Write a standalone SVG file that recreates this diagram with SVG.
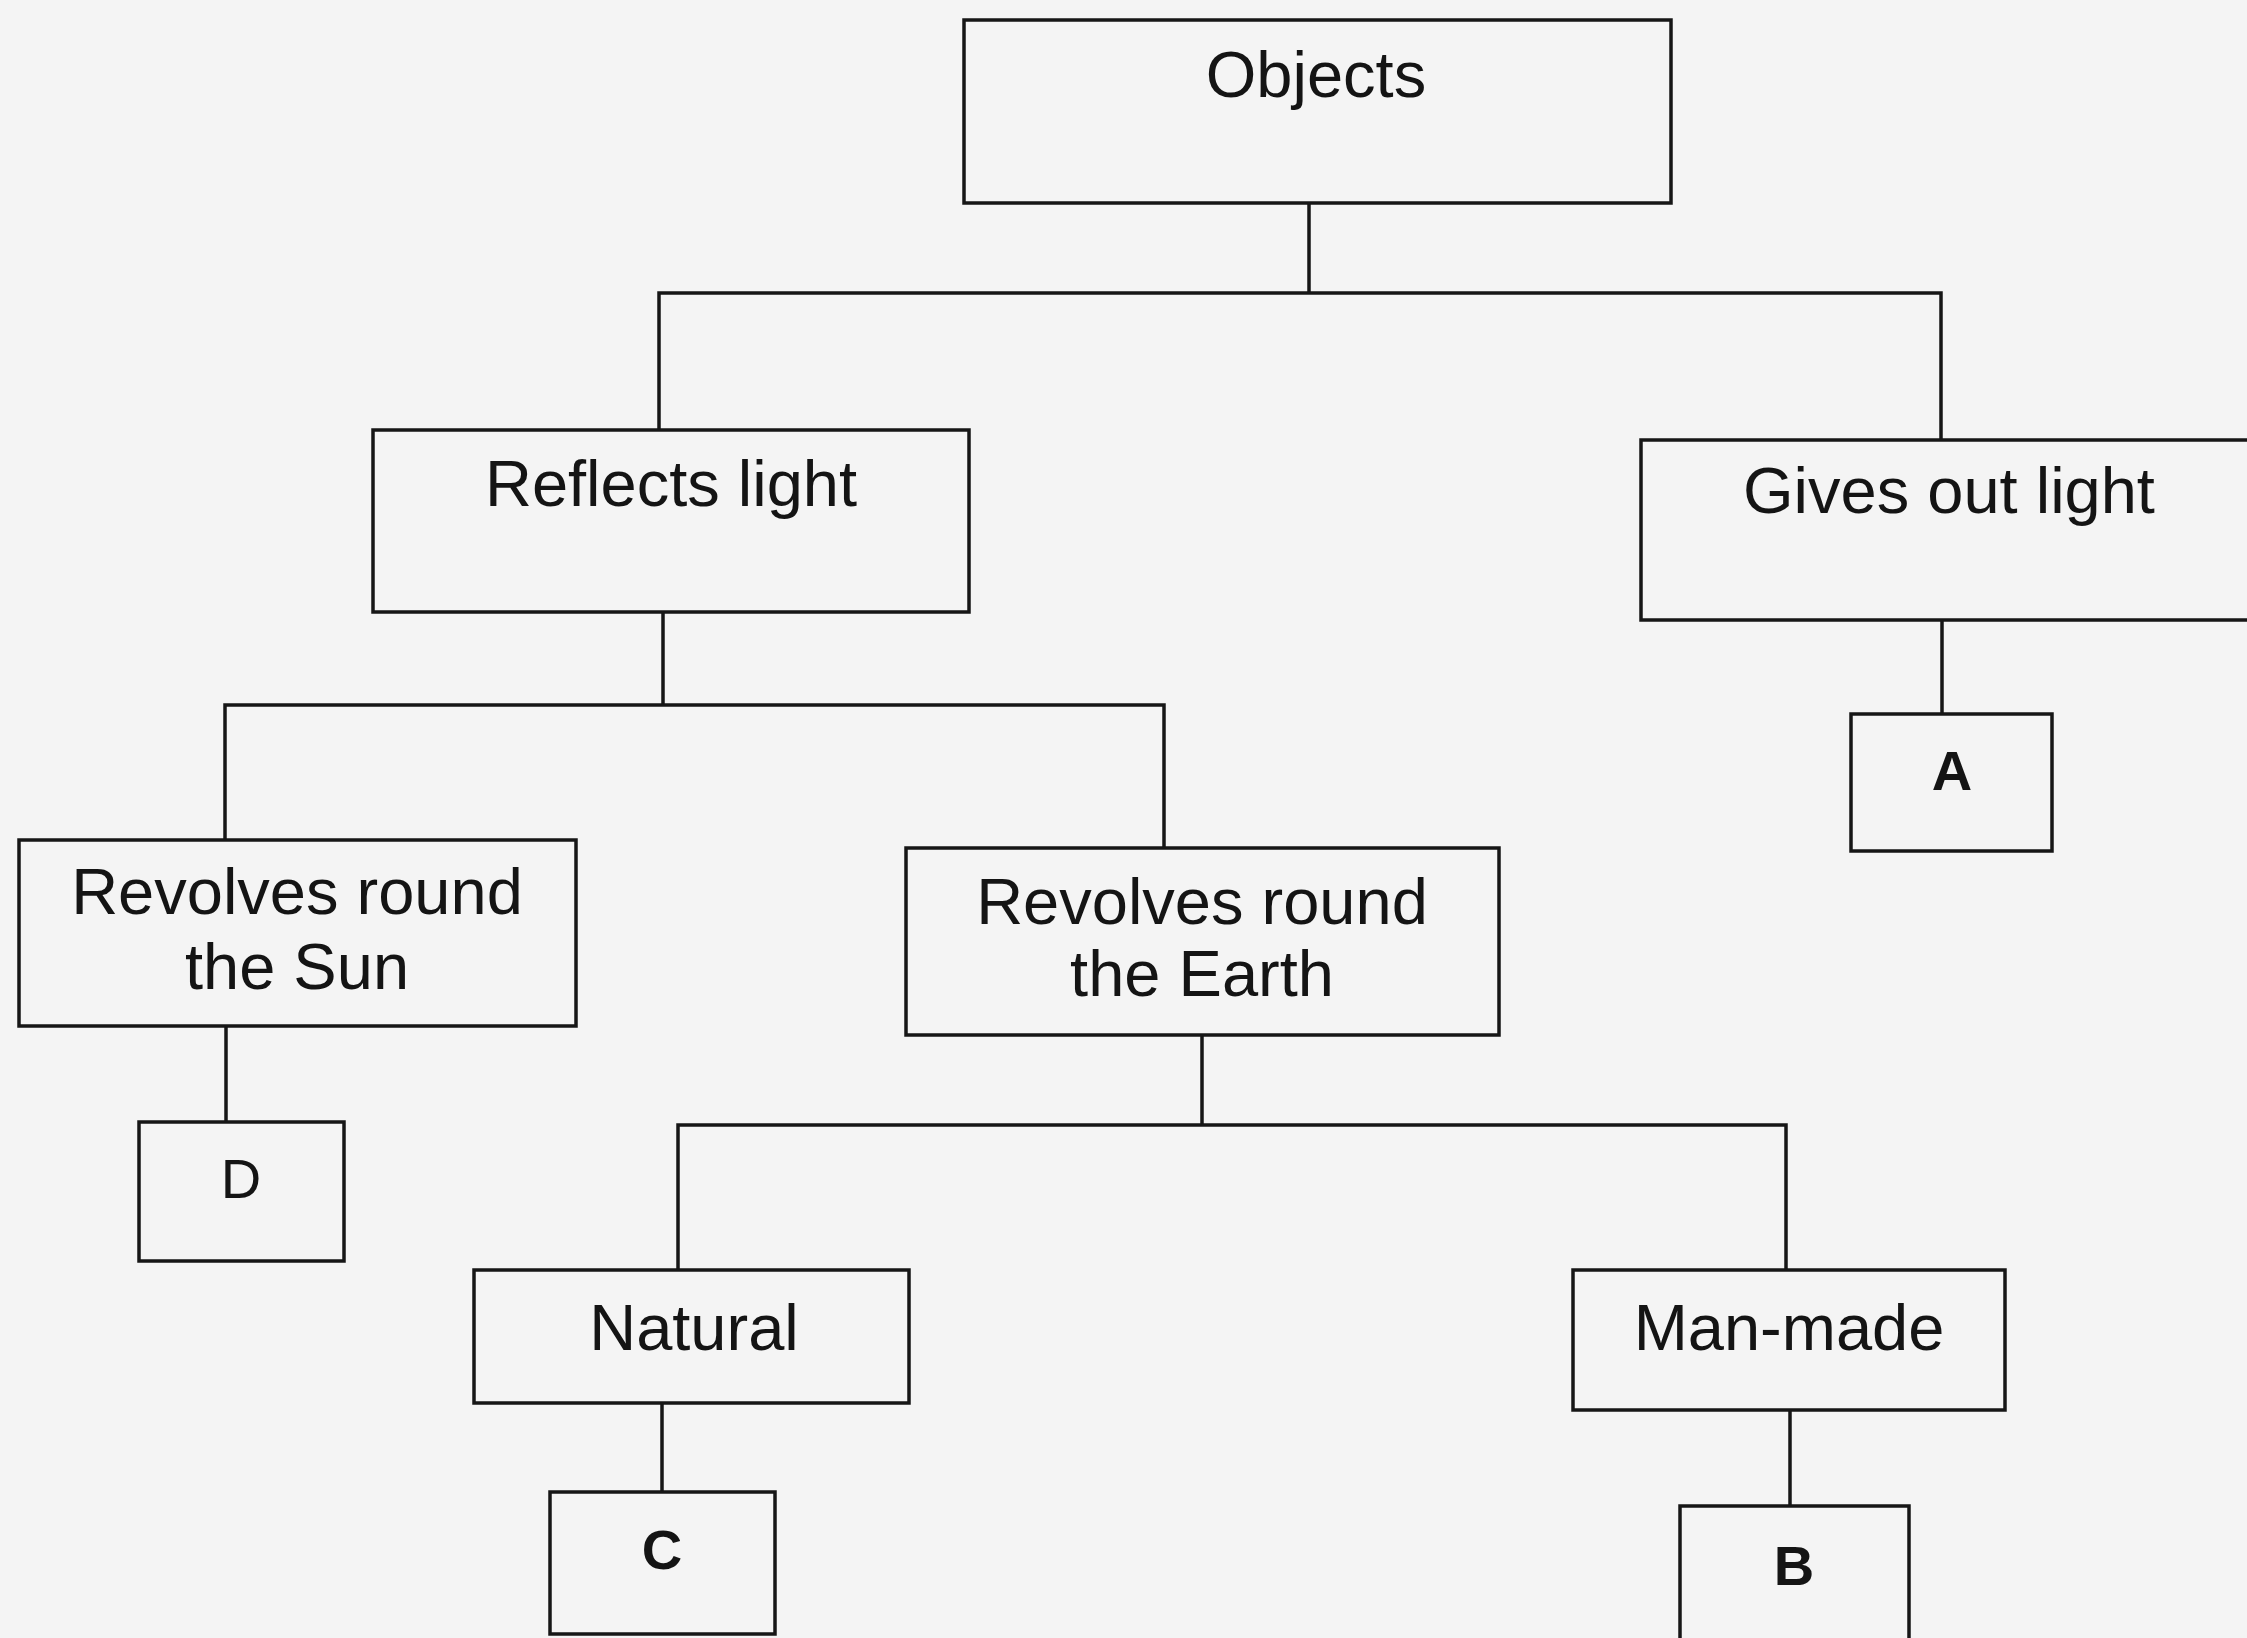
<svg xmlns="http://www.w3.org/2000/svg" width="2247" height="1638" viewBox="0 0 2247 1638">
<style>
.box{fill:none;stroke:#161616;stroke-width:3.5}
.ln{fill:none;stroke:#161616;stroke-width:3.5}
.t{font-family:"Liberation Sans",Arial,sans-serif;font-size:65px;fill:#141414;text-anchor:middle}
.l{font-family:"Liberation Sans",Arial,sans-serif;font-size:56px;font-weight:bold;fill:#141414;text-anchor:middle}
.n{font-weight:normal}
</style>
<rect width="2247" height="1638" fill="#f4f4f4"/>
<g id="connectors">
<polyline class="ln" points="1309,203 1309,293"/>
<polyline class="ln" points="659,430 659,293 1941,293 1941,440"/>
<polyline class="ln" points="1942,620 1942,714"/>
<polyline class="ln" points="663,612 663,705"/>
<polyline class="ln" points="225,840 225,705 1164,705 1164,848"/>
<polyline class="ln" points="226,1026 226,1122"/>
<polyline class="ln" points="1202,1035 1202,1125"/>
<polyline class="ln" points="678,1270 678,1125 1786,1125 1786,1270"/>
<polyline class="ln" points="662,1403 662,1492"/>
<polyline class="ln" points="1790,1410 1790,1506"/>
</g>
<g id="objects">
<rect class="box" x="964" y="20" width="707" height="183"/>
<text class="t" x="1316" y="97">Objects</text>
</g>
<g id="reflects">
<rect class="box" x="373" y="430" width="596" height="182"/>
<text class="t" x="671" y="506">Reflects light</text>
</g>
<g id="gives">
<rect class="box" x="1641" y="440" width="620" height="180"/>
<text class="t" x="1949" y="513">Gives out light</text>
</g>
<g id="nodeA">
<rect class="box" x="1851" y="714" width="201" height="137"/>
<text class="l" x="1952" y="790">A</text>
</g>
<g id="sun">
<rect class="box" x="19" y="840" width="557" height="186"/>
<text class="t" x="297" y="914">Revolves round</text>
<text class="t" x="297" y="989">the Sun</text>
</g>
<g id="nodeD">
<rect class="box" x="139" y="1122" width="205" height="139"/>
<text class="l n" x="241" y="1198">D</text>
</g>
<g id="earth">
<rect class="box" x="906" y="848" width="593" height="187"/>
<text class="t" x="1202" y="924">Revolves round</text>
<text class="t" x="1202" y="996">the Earth</text>
</g>
<g id="natural">
<rect class="box" x="474" y="1270" width="435" height="133"/>
<text class="t" x="694" y="1350">Natural</text>
</g>
<g id="nodeC">
<rect class="box" x="550" y="1492" width="225" height="142"/>
<text class="l" x="662" y="1569">C</text>
</g>
<g id="manmade">
<rect class="box" x="1573" y="1270" width="432" height="140"/>
<text class="t" x="1789" y="1350">Man-made</text>
</g>
<g id="nodeB">
<rect class="box" x="1680" y="1506" width="229" height="145"/>
<text class="l" x="1794" y="1585">B</text>
</g>
</svg>
